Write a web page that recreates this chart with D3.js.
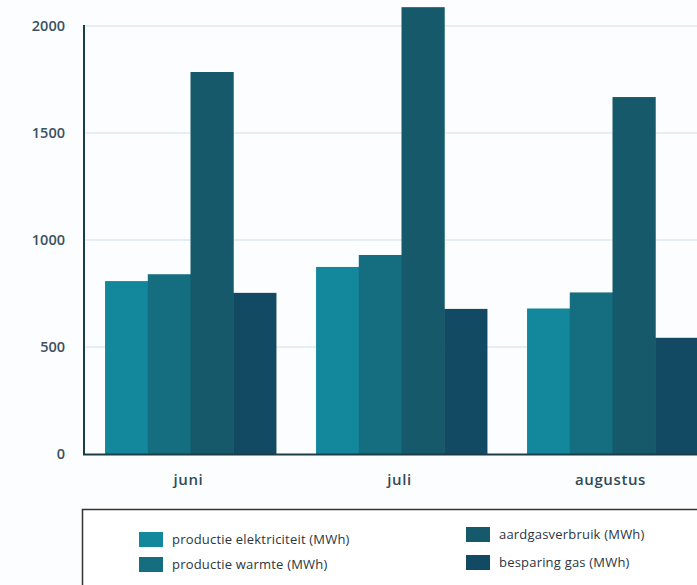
<!DOCTYPE html>
<html><head><meta charset="utf-8">
<script src="https://cdn.jsdelivr.net/npm/d3@7/dist/d3.min.js"></script>
<style>body{margin:0;background:#fcfdfe;}svg{display:block;}</style>
</head><body>
<svg id="c" width="697" height="585"></svg>
<script>
const months = ["juni", "juli", "augustus"];
const seriesNames = ["productie elektriciteit (MWh)", "productie warmte (MWh)", "aardgasverbruik (MWh)", "besparing gas (MWh)"];
const elektriciteit = [808, 874, 680];
const warmte = [840, 930, 755];
const aardgas = [1785, 2088, 1668];
const besparing = [753, 678, 543];
const yTicks = [0, 500, 1000, 1500, 2000];
const colors = ["#13879c", "#156e80", "#15596b", "#124a63"];

const series = [elektriciteit, warmte, aardgas, besparing];
const svg = d3.select("#c");
const font = "'Open Sans', sans-serif";
const y = d3.scaleLinear().domain([0, 2000]).range([454, 26]);
const x0 = d3.scaleBand().domain(months).range([85, 718]).paddingInner(0.19).paddingOuter(0.095);
const x1 = d3.scaleBand().domain(d3.range(4)).range([0, x0.bandwidth()]);

// gridlines
svg.append("g").selectAll("line").data(yTicks.filter(d => d > 0)).join("line")
  .attr("x1", 84).attr("x2", 697).attr("y1", d => y(d)).attr("y2", d => y(d))
  .attr("stroke", "#cddfe8").attr("stroke-width", 1.2);

// bars
const g = svg.append("g");
months.forEach((m, i) => {
  series.forEach((s, j) => {
    g.append("rect")
      .attr("x", x0(m) + x1(j)).attr("width", x1.bandwidth() + 0.5)
      .attr("y", y(s[i])).attr("height", y(0) - y(s[i]))
      .attr("fill", colors[j]);
  });
});

// axes lines
svg.append("line").attr("x1", 84).attr("x2", 84).attr("y1", 25).attr("y2", 455)
  .attr("stroke", "#1c3c48").attr("stroke-width", 2);
svg.append("line").attr("x1", 83).attr("x2", 697).attr("y1", 454.5).attr("y2", 454.5)
  .attr("stroke", "#1c3c48").attr("stroke-width", 2);

// y tick labels
svg.append("g").selectAll("text").data(yTicks).join("text")
  .attr("x", 65).attr("y", d => y(d) + 5).attr("text-anchor", "end")
  .attr("font-family", font).attr("font-size", 14.5).attr("font-weight", 600)
  .attr("fill", "#3a5262").text(d => d);

// x labels
svg.append("g").selectAll("text").data(months).join("text")
  .attr("x", d => x0(d) + x0.bandwidth() / 2 - 2).attr("y", 485).attr("text-anchor", "middle")
  .attr("font-family", font).attr("font-size", 15).attr("font-weight", 600)
  .attr("letter-spacing", 0.6)
  .attr("fill", "#2f4a58").text(d => d);

// legend box
svg.append("rect").attr("x", 82.5).attr("y", 509.5).attr("width", 620).attr("height", 80)
  .attr("fill", "#ffffff").attr("stroke", "#333", ).attr("stroke-width", 1.5);

const legPos = [[139, 532], [139, 557], [466, 527], [466, 555]];
seriesNames.forEach((n, j) => {
  const [lx, ly] = legPos[j];
  svg.append("rect").attr("x", lx).attr("y", ly).attr("width", 24).attr("height", 15).attr("fill", colors[j]);
  svg.append("text").attr("x", lx + 33).attr("y", ly + 12).attr("font-family", font)
    .attr("font-size", 13).attr("letter-spacing", 0.2).attr("fill", "#2b3640").text(n);
});
</script>
</body></html>
